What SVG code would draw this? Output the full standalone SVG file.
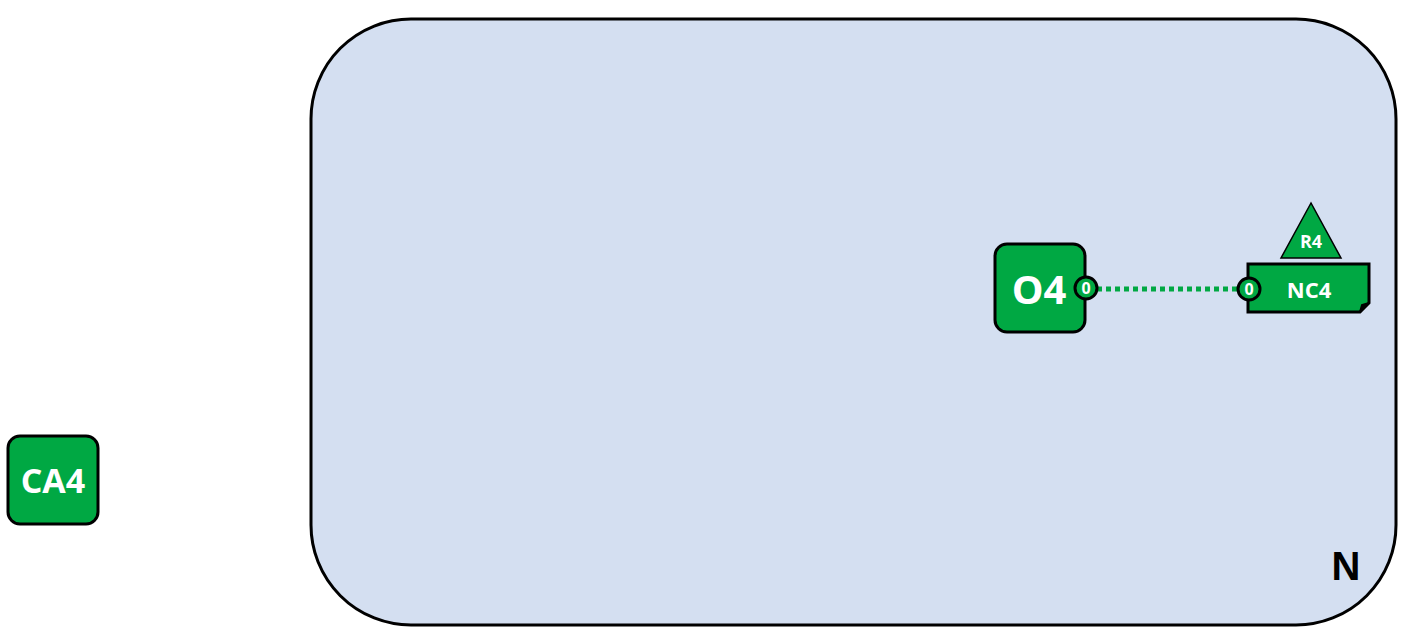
<svg xmlns="http://www.w3.org/2000/svg" width="1405" height="639" viewBox="0 0 1405 639">
<style>
.g{fill:#00a843;stroke:#000;stroke-width:3}
.t{font-family:"Open Sans","Liberation Sans",sans-serif;font-weight:bold;fill:#fff;text-anchor:middle}
</style>
<rect width="1405" height="639" fill="#fff"/>
<g id="N">
<rect x="311" y="19" width="1085" height="606" rx="100" ry="100" fill="#d4dff1" stroke="#000" stroke-width="3"/>
<text x="1346" y="580" font-family="Liberation Sans,Arial,sans-serif" font-weight="bold" font-size="40" text-anchor="middle" fill="#000">N</text>
</g>
<g id="connectors">
<line x1="1097" y1="289" x2="1238" y2="289" stroke="#00a843" stroke-width="5" stroke-dasharray="5,4"/>
</g>
<g id="O4">
<rect class="g" x="995" y="244" width="90" height="88" rx="12"/>
<text class="t" x="1039" y="304" font-size="40">O4</text>
<circle class="g" cx="1086" cy="288" r="11"/>
<text class="t" x="1086" y="294" font-size="16">0</text>
</g>
<g id="NC4">
<path class="g" d="M1248 264 H1369 V303 L1360 312 H1248 Z"/>
<path d="M1360 312 L1362 305 L1369 303" fill="#000" stroke="#000" stroke-width="2"/>
<text class="t" x="1309" y="298" font-size="22">NC4</text>
<circle class="g" cx="1249" cy="289" r="11"/>
<text class="t" x="1249" y="295" font-size="16">0</text>
</g>
<g id="R4">
<polygon points="1311,203 1281,258 1341,258" fill="#00a843" stroke="#000" stroke-width="1.5"/>
<text class="t" x="1311" y="248" font-size="18">R4</text>
</g>
<g id="CA4">
<rect class="g" x="8" y="436" width="90" height="88" rx="12"/>
<text class="t" x="53" y="493" font-size="34">CA4</text>
</g>
</svg>
